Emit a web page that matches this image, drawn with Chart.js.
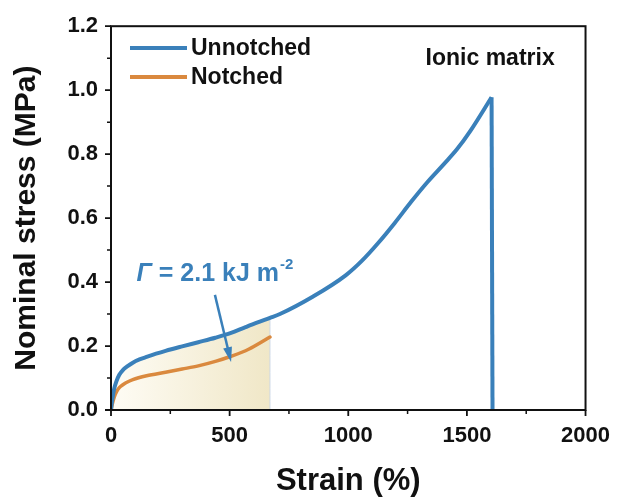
<!DOCTYPE html>
<html>
<head>
<meta charset="utf-8">
<title>Nominal stress vs strain</title>
<script src="https://cdn.jsdelivr.net/npm/chart.js@4.4.1/dist/chart.umd.min.js"></script>
<style>
  html, body { margin: 0; padding: 0; background: #fff; }
</style>
</head>
<body>
<canvas id="chart" width="623" height="502"></canvas>
<script>
// Tensile curves of the ionic matrix
const unnotchedStrain = [0, 4, 8, 14, 22, 35, 50, 70, 92, 120, 150, 190, 230, 300, 368, 440, 506, 560, 615, 670, 712, 850, 989, 1058, 1127, 1196, 1265, 1334, 1403, 1458, 1514, 1604, 1608];
const unnotchedStress = [0, 0.025, 0.045, 0.068, 0.088, 0.11, 0.125, 0.137, 0.148, 0.158, 0.166, 0.176, 0.185, 0.199, 0.212, 0.226, 0.241, 0.257, 0.273, 0.288, 0.300, 0.354, 0.421, 0.467, 0.523, 0.585, 0.651, 0.713, 0.769, 0.815, 0.872, 0.978, 0];

const notchedStrain = [0, 6, 14, 24, 35, 50, 63, 92, 150, 230, 300, 368, 440, 506, 580, 670];
const notchedStress = [0, 0.02, 0.041, 0.058, 0.07, 0.079, 0.085, 0.095, 0.107, 0.118, 0.128, 0.138, 0.152, 0.168, 0.19, 0.228];

const xTicks = [0, 500, 1000, 1500, 2000];
const yTicks = [0, 0.2, 0.4, 0.6, 0.8, 1.0, 1.2];

const seriesNames = ['Unnotched', 'Notched'];
const BLUE = 'rgb(58, 128, 186)';
const ORANGE = 'rgb(218, 137, 62)';
const FONT = '"Liberation Sans", Arial, sans-serif';

const toPoints = (xs, ys) => xs.map((x, i) => ({ x: x, y: ys[i] }));

const unnotched = toPoints(unnotchedStrain, unnotchedStress);
const notched = toPoints(notchedStrain, notchedStress);

// smooth loading part, and the straight drop at fracture
const loading = unnotched.slice(0, -1);
const fracture = unnotched.slice(-2);

// shaded area under the unnotched curve up to the notched break strain
const breakStrain = notchedStrain[notchedStrain.length - 1];
const shaded = unnotched.filter(p => p.x <= breakStrain);
shaded.push({ x: breakStrain, y: 0 });

function shadeGradient(context) {
  const chart = context.chart;
  const area = chart.chartArea;
  if (!area) return 'rgba(240, 230, 200, 1)';
  const xs = chart.scales.x;
  const g = chart.ctx.createLinearGradient(xs.getPixelForValue(0), 0, xs.getPixelForValue(breakStrain), 0);
  g.addColorStop(0, 'rgb(254, 252, 245)');
  g.addColorStop(1, 'rgb(240, 231, 199)');
  return g;
}

// frame, minor ticks, legend and text annotations
const decorations = {
  id: 'decorations',
  afterDatasetsDraw(chart) {
    const ctx = chart.ctx;
    const { left, right, top, bottom } = chart.chartArea;
    const xs = chart.scales.x;
    const ys = chart.scales.y;

    ctx.save();
    ctx.strokeStyle = '#111';
    ctx.lineWidth = 2;
    ctx.strokeRect(left, top, right - left, bottom - top);

    // major ticks
    ctx.lineWidth = 1.8;
    ctx.beginPath();
    xTicks.forEach(v => {
      const px = xs.getPixelForValue(v);
      ctx.moveTo(px, bottom);
      ctx.lineTo(px, bottom + 6);
    });
    yTicks.forEach(v => {
      const py = ys.getPixelForValue(v);
      ctx.moveTo(left, py);
      ctx.lineTo(left - 6, py);
    });
    ctx.stroke();

    // minor ticks halfway between majors
    ctx.lineWidth = 1.5;
    ctx.beginPath();
    for (let i = 0; i < xTicks.length - 1; i++) {
      const px = xs.getPixelForValue((xTicks[i] + xTicks[i + 1]) / 2);
      ctx.moveTo(px, bottom);
      ctx.lineTo(px, bottom + 4);
    }
    for (let i = 0; i < yTicks.length - 1; i++) {
      const py = ys.getPixelForValue((yTicks[i] + yTicks[i + 1]) / 2);
      ctx.moveTo(left, py);
      ctx.lineTo(left - 4, py);
    }
    ctx.stroke();

    // legend
    const legendColors = [BLUE, ORANGE];
    ctx.font = 'bold 23px ' + FONT;
    ctx.textBaseline = 'middle';
    ctx.textAlign = 'left';
    seriesNames.forEach((name, i) => {
      const ly = 48 + i * 29;
      ctx.strokeStyle = legendColors[i];
      ctx.lineWidth = 4;
      ctx.beginPath();
      ctx.moveTo(130, ly);
      ctx.lineTo(187, ly);
      ctx.stroke();
      ctx.fillStyle = '#111';
      ctx.fillText(name, 191, ly + 1);
    });

    // sample name
    ctx.textAlign = 'center';
    ctx.fillText('Ionic matrix', xs.getPixelForValue(1598), ys.getPixelForValue(1.098));

    // fracture energy label
    let tx = xs.getPixelForValue(108);
    const ty = ys.getPixelForValue(0.425);
    ctx.fillStyle = BLUE;
    ctx.textAlign = 'left';
    ctx.font = 'italic bold 25px ' + FONT;
    ctx.fillText('\u0393', tx, ty);
    tx += ctx.measureText('\u0393').width;
    ctx.font = 'bold 25px ' + FONT;
    const main = ' = 2.1 kJ m';
    ctx.fillText(main, tx, ty);
    tx += ctx.measureText(main).width + 1;
    ctx.font = 'bold 15px ' + FONT;
    ctx.fillText('-2', tx, ty - 9);

    // arrow pointing to the notched curve
    const ax0 = xs.getPixelForValue(438), ay0 = ys.getPixelForValue(0.36);
    const ax1 = xs.getPixelForValue(506), ay1 = ys.getPixelForValue(0.15);
    const ang = Math.atan2(ay1 - ay0, ax1 - ax0);
    ctx.strokeStyle = BLUE;
    ctx.lineWidth = 2.5;
    ctx.beginPath();
    ctx.moveTo(ax0, ay0);
    ctx.lineTo(ax1 - 10 * Math.cos(ang), ay1 - 10 * Math.sin(ang));
    ctx.stroke();
    ctx.beginPath();
    ctx.moveTo(ax1, ay1);
    ctx.lineTo(ax1 - 15 * Math.cos(ang) + 4.5 * Math.sin(ang), ay1 - 15 * Math.sin(ang) - 4.5 * Math.cos(ang));
    ctx.lineTo(ax1 - 15 * Math.cos(ang) - 4.5 * Math.sin(ang), ay1 - 15 * Math.sin(ang) + 4.5 * Math.cos(ang));
    ctx.closePath();
    ctx.fill();
    ctx.restore();
  }
};

new Chart(document.getElementById('chart'), {
  type: 'line',
  data: {
    datasets: [
      {
        label: seriesNames[0],
        data: loading,
        borderColor: BLUE,
        borderWidth: 4,
        pointRadius: 0,
        cubicInterpolationMode: 'monotone',
        fill: false,
        order: 0
      },
      {
        label: seriesNames[0] + ' fracture',
        data: fracture,
        borderColor: BLUE,
        borderWidth: 4,
        pointRadius: 0,
        tension: 0,
        fill: false,
        order: 0
      },
      {
        label: seriesNames[1],
        data: notched,
        borderColor: ORANGE,
        borderWidth: 3.5,
        borderCapStyle: 'round',
        pointRadius: 0,
        cubicInterpolationMode: 'monotone',
        fill: false,
        order: 1
      },
      {
        label: 'area',
        data: shaded,
        borderColor: 'rgba(200, 212, 228, 0.9)',
        borderWidth: 1,
        backgroundColor: shadeGradient,
        pointRadius: 0,
        cubicInterpolationMode: 'monotone',
        fill: 'origin',
        order: 2
      }
    ]
  },
  options: {
    responsive: false,
    animation: false,
    layout: { padding: { left: 0, top: 21, right: 30, bottom: 0 } },
    plugins: {
      legend: { display: false },
      tooltip: { enabled: false }
    },
    scales: {
      x: {
        type: 'linear',
        min: 0,
        max: 2000,
        afterBuildTicks: s => { s.ticks = xTicks.map(v => ({ value: v })); },
        afterFit: s => { s.height = 92; },
        grid: { display: false, drawTicks: false },
        border: { display: false },
        ticks: {
          padding: 13,
          maxRotation: 0,
          color: '#111',
          font: { family: FONT, size: 22, weight: 'bold' },
          callback: v => String(v)
        },
        title: {
          display: true,
          text: 'Strain (%)',
          color: '#111',
          font: { family: FONT, size: 31, weight: 'bold' },
          padding: { top: 0, bottom: 2 }
        }
      },
      y: {
        type: 'linear',
        min: 0,
        max: 1.2,
        afterBuildTicks: s => { s.ticks = yTicks.map(v => ({ value: v })); },
        afterFit: s => { s.width = 111; },
        grid: { display: false, drawTicks: false },
        border: { display: false },
        ticks: {
          padding: 13,
          color: '#111',
          font: { family: FONT, size: 22, weight: 'bold' },
          callback: v => v.toFixed(1)
        },
        title: {
          display: true,
          text: 'Nominal stress (MPa)',
          color: '#111',
          font: { family: FONT, size: 30, weight: 'bold' },
          padding: { top: 9, bottom: 0 }
        }
      }
    }
  },
  plugins: [decorations]
});
</script>
</body>
</html>
